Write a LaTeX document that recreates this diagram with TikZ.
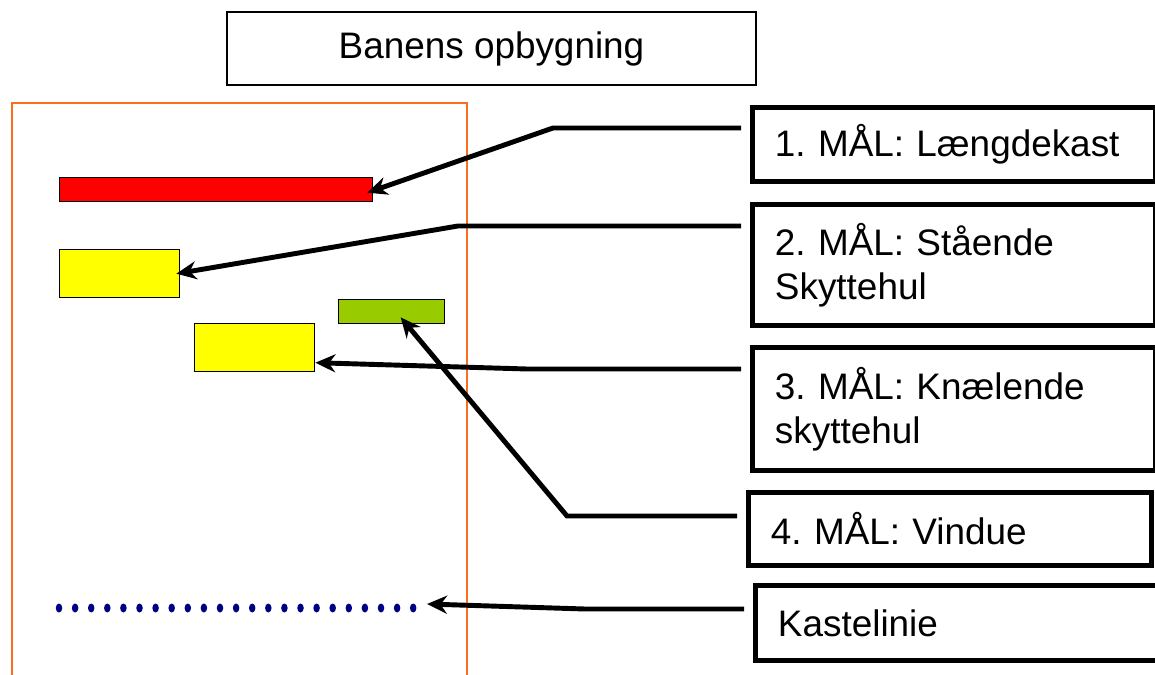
\documentclass[tikz,border=0pt]{standalone}
\usepackage{fontspec}
\setmainfont{Liberation Sans}
\usetikzlibrary{calc, arrows.meta}

\definecolor{lanecol}{RGB}{250,110,30}
\definecolor{redbar}{RGB}{255,0,0}
\definecolor{yellowbar}{RGB}{255,255,0}
\definecolor{greenbar}{RGB}{153,204,0}
\definecolor{dotblue}{RGB}{0,0,128}

\frenchspacing

\begin{document}
\begin{tikzpicture}[
    x=0.02cm, y=-0.02cm,
    >={Stealth[length=0.4cm, width=0.36cm]},
    font=\fontsize{21}{25}\selectfont,
    bar/.style={draw=black, line width=0.8pt, anchor=north west, inner sep=0pt},
    labelbox/.style={draw=black, line width=2.8pt, anchor=north west,
        minimum width=8.06cm, text width=7.16cm, inner xsep=0.45cm, align=left},
    titlebox/.style={draw=black, line width=0.9pt, minimum width=10.58cm, minimum height=1.46cm},
    pointer/.style={->, line width=2.8pt, shorten <=5pt}
]
    \useasboundingbox (0,0) rectangle (1155,675);

    % Title
    \node[titlebox] (title) at (491.5,48.5) {Banens opbygning};

    % Lane
    \draw[lanecol, line width=1pt] (12,103) rectangle (467,700);

    % Targets
    \node[bar, fill=redbar, minimum width=6.26cm, minimum height=0.48cm] (laengde) at (59,177) {};
    \node[bar, fill=yellowbar, minimum width=2.4cm, minimum height=0.96cm] (staaende) at (59,249) {};
    \node[bar, fill=greenbar, minimum width=2.12cm, minimum height=0.48cm] (vindue) at (338,299) {};
    \node[bar, fill=yellowbar, minimum width=2.4cm, minimum height=0.96cm] (knaelende) at (194,323) {};

    % Throwing line
    \foreach \i in {0,...,22}
        \fill[dotblue] (59+\i*16.1,608) ellipse [x radius=0.065cm, y radius=0.09cm];
    \coordinate (kastend) at (427,604);

    % Labels (right side)
    \node[labelbox, minimum height=1.48cm] (lab1) at (750,105) {1. MÅL: Længdekast};
    \node[labelbox, minimum height=2.42cm] (lab2) at (750,202) {2. MÅL: Stående\\Skyttehul};
    \node[labelbox, minimum height=2.46cm] (lab3) at (750,345) {3. MÅL: Knælende\\skyttehul};
    \node[labelbox, minimum height=1.46cm] (lab4) at (746,490) {4. MÅL: Vindue};
    \node[labelbox, minimum height=1.5cm] (lab5) at (753,583) {Kastelinie};

    % Bends
    \coordinate (b1) at (553,128);
    \coordinate (b2) at (458,226);
    \coordinate (b3) at (527,369);
    \coordinate (b4) at (567,516);
    \coordinate (b5) at (585,609);

    % Pointers
    \draw[pointer] (lab1.west |- b1) -- (b1) -- ([xshift=-0.12cm, yshift=-0.06cm]laengde.east);
    \draw[pointer] (lab2.west |- b2) -- (b2) -- ([xshift=-0.08cm]staaende.east);
    \draw[pointer] (lab3.west |- b3) -- (b3) -- ([yshift=-0.3cm]knaelende.east);
    \draw[pointer] (lab4.west |- b4) -- (b4) -- ($(vindue.south)+(9,-7)$);
    \draw[pointer] (lab5.west |- b5) -- (b5) -- (kastend);

\end{tikzpicture}
\end{document}
